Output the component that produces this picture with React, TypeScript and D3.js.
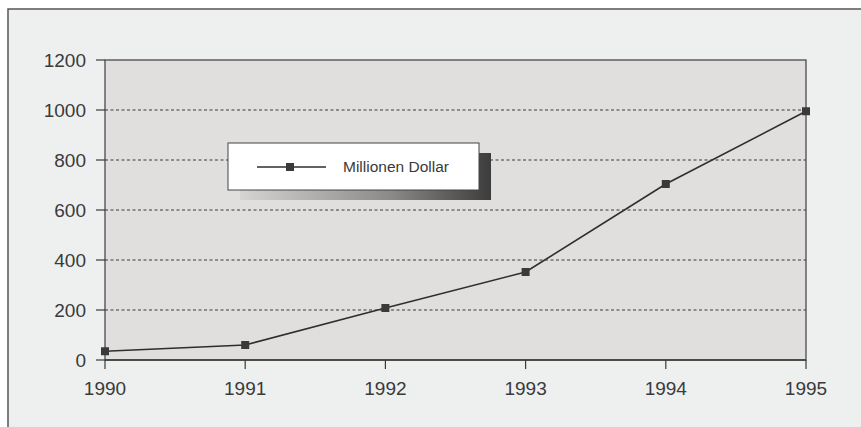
import React from "react";
import * as d3 from "d3";

const years = [1990, 1991, 1992, 1993, 1994, 1995];
const values = [35, 60, 208, 352, 704, 995];
const yTicks = [0, 200, 400, 600, 800, 1000, 1200];
const seriesName = "Millionen Dollar";

const W = 861;
const H = 427;
const plot = { left: 105, right: 806, top: 60, bottom: 360 };

export default function App() {
  const x = d3.scaleLinear().domain([1990, 1995]).range([plot.left, plot.right]);
  const y = d3.scaleLinear().domain([0, 1200]).range([plot.bottom, plot.top]);
  const line = d3
    .line<number>()
    .x((_, i) => x(years[i]))
    .y((d) => y(d));
  const font = "'Liberation Sans', Arial, Helvetica, sans-serif";
  const ms = 8;
  const lg = { x: 228, y: 143, w: 251, h: 47 };
  return (
    <svg
      width={W}
      height={H}
      style={{ position: "absolute", left: 0, top: 0, display: "block" }}
      fontFamily={font}
    >
      <defs>
        <linearGradient id="shadow" x1="0" x2="1" y1="0" y2="0">
          <stop offset="0" stopColor="#d4d4d4" />
          <stop offset="0.6" stopColor="#8a8a8a" />
          <stop offset="1" stopColor="#3c3c3c" />
        </linearGradient>
      </defs>
      <rect x={0} y={0} width={W} height={H} fill="#ffffff" />
      <rect x={8} y={9} width={W} height={H} fill="#eef0f0" stroke="#555" strokeWidth={1.5} />
      <rect
        x={plot.left}
        y={plot.top}
        width={plot.right - plot.left}
        height={plot.bottom - plot.top}
        fill="#e1dfdd"
        stroke="#4a4a4a"
        strokeWidth={1.3}
      />
      {yTicks.map((t) => (
        <g key={t}>
          {t > 0 && t < 1200 && (
            <line
              x1={plot.left}
              x2={plot.right}
              y1={y(t)}
              y2={y(t)}
              stroke="#3a3a3a"
              strokeWidth={1.2}
              strokeDasharray="3,2.5"
            />
          )}
          <line x1={plot.left - 9} x2={plot.left} y1={y(t)} y2={y(t)} stroke="#3a3a3a" strokeWidth={1.2} />
          <text x={86} y={y(t) + 7} textAnchor="end" fontSize={19} fill="#3a3a3a">
            {t}
          </text>
        </g>
      ))}
      <line x1={plot.left} x2={plot.right} y1={plot.bottom} y2={plot.bottom} stroke="#3a3a3a" strokeWidth={1.5} />
      {years.map((yr) => (
        <g key={yr}>
          <line x1={x(yr)} x2={x(yr)} y1={plot.bottom} y2={plot.bottom + 9} stroke="#3a3a3a" strokeWidth={1.2} />
          <text x={x(yr)} y={395} textAnchor="middle" fontSize={19} fill="#3a3a3a">
            {yr}
          </text>
        </g>
      ))}
      <path d={line(values) || ""} fill="none" stroke="#2e2e2e" strokeWidth={1.6} />
      {values.map((v, i) => (
        <rect
          key={i}
          x={x(years[i]) - ms / 2}
          y={y(v) - ms / 2}
          width={ms}
          height={ms}
          fill="#3a3a3a"
        />
      ))}
      <rect x={lg.x + 12} y={lg.y + 10} width={lg.w} height={lg.h} fill="url(#shadow)" />
      <rect x={lg.x} y={lg.y} width={lg.w} height={lg.h} fill="#ffffff" stroke="#444" strokeWidth={1} />
      <line x1={257} x2={326} y1={167} y2={167} stroke="#2e2e2e" strokeWidth={1.4} />
      <rect x={290 - ms / 2} y={167 - ms / 2} width={ms} height={ms} fill="#3a3a3a" />
      <text x={343} y={172} fontSize={15.5} fill="#3a3a3a">
        {seriesName}
      </text>
    </svg>
  );
}
